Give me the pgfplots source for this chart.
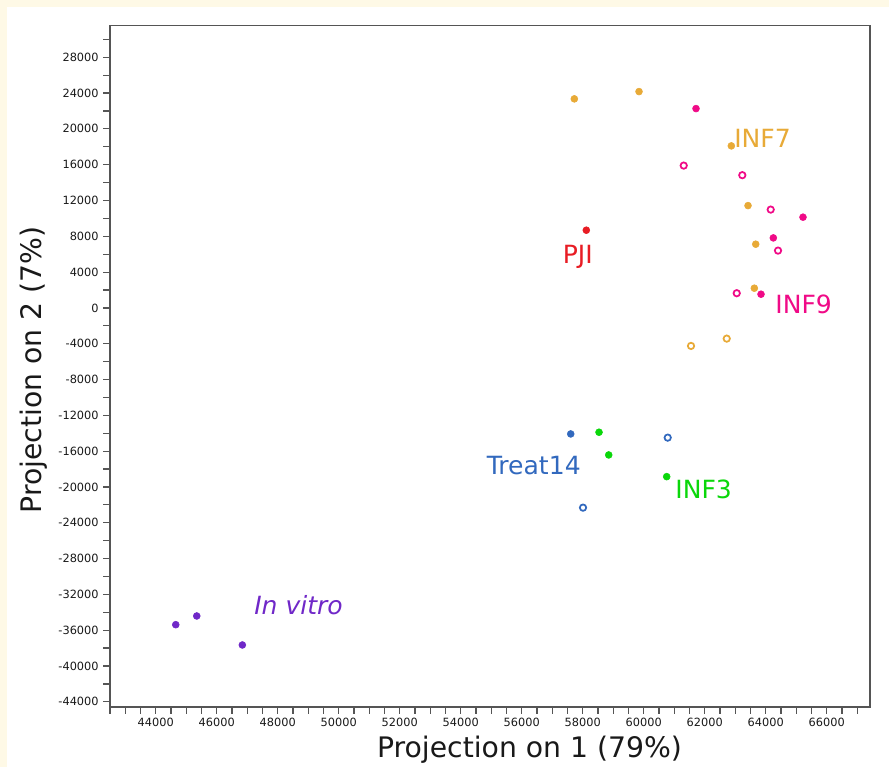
\documentclass[border=0pt]{standalone}
\usepackage{fontspec}
\setmainfont{DejaVu Sans}
\usepackage{pgfplots}
\pgfplotsset{compat=1.18}
\definecolor{cream}{RGB}{254,249,230}
\definecolor{corange}{RGB}{232,170,55}
\definecolor{cpink}{RGB}{240,10,135}
\definecolor{cred}{RGB}{232,28,36}
\definecolor{cblue}{RGB}{50,105,190}
\definecolor{cgreen}{RGB}{10,215,10}
\definecolor{cpurple}{RGB}{112,40,200}
\definecolor{axgray}{RGB}{85,85,85}
\begin{document}
\begin{tikzpicture}[x=1pt,y=1pt]
\fill[cream] (-82.5,-45) rectangle (584.25,530.25);
\fill[white] (-77.25,-45) rectangle (584.25,525);
\begin{axis}[at={(0,0)}, anchor=south west, scale only axis,
  width=570pt, height=511pt,
  xmin=42500, xmax=67420, ymin=-44580, ymax=31530,
  xtick={44000,46000,...,66000}, ytick={-44000,-40000,...,28000},
  minor xtick={42500,43000,...,67000}, minor ytick={-42000,-38000,...,30000},
  xtick pos=bottom, ytick pos=left, tick align=outside,
  major tick length=5pt, minor tick length=5pt,
  every tick/.style={axgray, line width=0.9pt},
  axis line style={axgray, line width=1pt},
  scaled ticks=false,
  /pgf/number format/.cd, 1000 sep={}, assume math mode=true, /pgfplots/.cd,
  tick label style={font=\fontsize{8.5}{10}\selectfont, text=black!90},
  xlabel={Projection on 1 (79\%)}, ylabel={Projection on 2 (7\%)},
  label style={font=\fontsize{21.2}{24}\selectfont, text=black!90},
  xlabel style={at={(axis description cs:0.552,-0.063)}, anchor=center},
  ylabel style={at={(axis description cs:-0.101,0.4946)}, anchor=center, rotate=0},
  clip=false,
]
\addplot[only marks, mark=*, mark size=2.6pt, corange, mark options={draw=corange, fill=corange}] coordinates {
(57725,23352) (59846,24167) (62873,18100) (63420,11430) (63673,7117) (63627,2201)};
\addplot[only marks, mark=o, mark size=2.4pt, corange, mark options={line width=1.3pt}] coordinates {
(61551,-4246) (62722,-3430)};
\addplot[only marks, mark=*, mark size=2.6pt, cpink, mark options={draw=cpink, fill=cpink}] coordinates {
(61715,22268) (65223,10134) (64250,7821) (63846,1531)};
\addplot[only marks, mark=o, mark size=2.4pt, cpink, mark options={line width=1.3pt}] coordinates {
(61312,15899) (63233,14827) (64164,10983) (64404,6402) (63050,1642)};
\addplot[only marks, mark=*, mark size=2.6pt, cred, mark options={draw=cred, fill=cred}] coordinates {
(58118,8681)};
\addplot[only marks, mark=*, mark size=2.6pt, cblue, mark options={draw=cblue, fill=cblue}] coordinates {
(57607,-14078)};
\addplot[only marks, mark=o, mark size=2.4pt, cblue, mark options={line width=1.3pt}] coordinates {
(60787,-14491) (58010,-22312)};
\addplot[only marks, mark=*, mark size=2.6pt, cgreen, mark options={draw=cgreen, fill=cgreen}] coordinates {
(58535,-13888) (58853,-16424) (60754,-18849)};
\addplot[only marks, mark=*, mark size=2.6pt, cpurple, mark options={draw=cpurple, fill=cpurple}] coordinates {
(44656,-35385) (45345,-34413) (46840,-37653)};
\node[anchor=base west, inner sep=0pt, text=corange, font=\fontsize{18.8}{20}\selectfont] at (axis cs:62960,17955) {INF7};
\node[anchor=base west, inner sep=0pt, text=cred, font=\fontsize{18.8}{20}\selectfont] at (axis cs:57338,4994) {PJI};
\node[anchor=base west, inner sep=0pt, text=cpink, font=\fontsize{18.8}{20}\selectfont] at (axis cs:64310,-592) {INF9};
\node[anchor=base west, inner sep=0pt, text=cblue, font=\fontsize{18.8}{20}\selectfont] at (axis cs:54846,-18659) {Treat14};
\node[anchor=base west, inner sep=0pt, text=cgreen, font=\fontsize{18.8}{20}\selectfont] at (axis cs:61030,-21262) {INF3};
\node[anchor=base west, inner sep=0pt, text=cpurple, font=\fontsize{18.8}{20}\selectfont\itshape] at (axis cs:47223,-34301) {In vitro};
\end{axis}
\pgfresetboundingbox
\useasboundingbox (-82.5,-45) rectangle (584.25,530.25);
\end{tikzpicture}
\end{document}
